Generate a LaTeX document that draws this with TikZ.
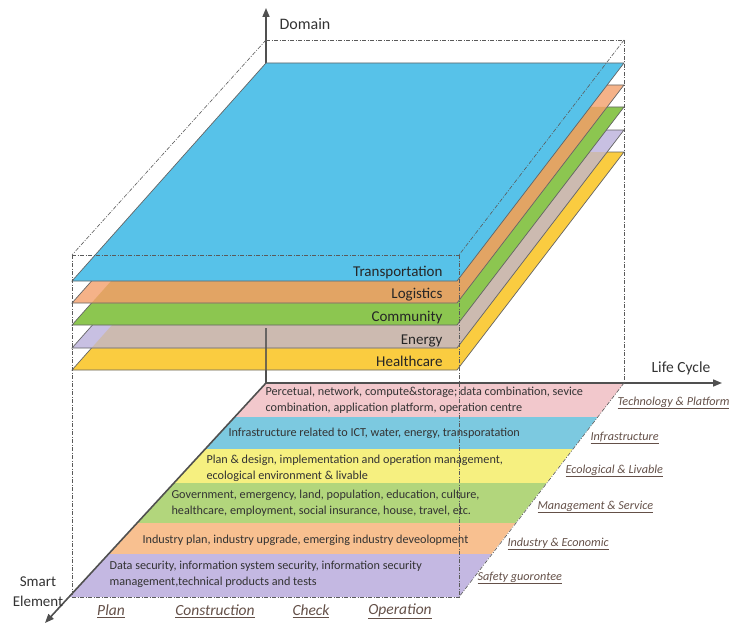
\documentclass[tikz,border=0pt]{standalone}
\usepackage{fontspec}
\setmainfont{Carlito}
\usepackage{xcolor}
\usepackage{tikz}
\usetikzlibrary{arrows.meta}

\definecolor{bandpink}{RGB}{242,200,204}
\definecolor{bandblue}{RGB}{124,201,224}
\definecolor{bandyellow}{RGB}{246,240,128}
\definecolor{bandgreen}{RGB}{178,214,124}
\definecolor{bandorange}{RGB}{248,192,144}
\definecolor{bandlilac}{RGB}{196,184,226}
\definecolor{layblue}{RGB}{87,194,233}
\definecolor{laypeach}{RGB}{245,178,136}
\definecolor{layorange}{RGB}{226,164,100}
\definecolor{laygreen}{RGB}{140,198,80}
\definecolor{laylilac}{RGB}{200,192,226}
\definecolor{laytaupe}{RGB}{204,186,176}
\definecolor{layyellow}{RGB}{250,204,64}
\definecolor{labbrown}{RGB}{100,80,72}
\definecolor{axgrey}{RGB}{80,80,80}
\definecolor{edgegrey}{RGB}{100,100,100}
\definecolor{dashgrey}{RGB}{90,90,90}

\begin{document}
\begin{tikzpicture}[x=1pt,y=-1pt,
  axis/.style={draw=axgrey,line width=1.6pt,-{Triangle[length=9pt,width=7pt]}},
  axline/.style={draw=axgrey,line width=1.6pt},
  layer/.style={draw=edgegrey,line width=0.7pt},
  frame/.style={draw=dashgrey,line width=0.6pt,dash pattern=on 4pt off 1.5pt on 1pt off 1.5pt},
  layerlabel/.style={anchor=base east,font=\fontsize{15}{17}\selectfont,text=black!85},
  bandtext/.style={anchor=west,align=left,font=\fontsize{12.2}{16}\selectfont,text=black!80},
  sidelabel/.style={anchor=west,font=\fontsize{12.2}{14}\selectfont\itshape,text=labbrown},
  phase/.style={font=\fontsize{15.5}{17}\selectfont\itshape,text=labbrown},
  axlabel/.style={font=\fontsize{15.5}{17}\selectfont,text=black!80}]
\useasboundingbox (0,0) rectangle (729,626);
%
\coordinate (O) at (266,383);
\coordinate (dom) at (266,8);
\coordinate (life) at (722,383);
\coordinate (smart) at (45,623);
\coordinate (dmid) at (266,328);
%
\coordinate (f1) at (266,40);
\coordinate (f2) at (624,40);
\coordinate (f3) at (459,255);
\coordinate (f4) at (72,255);
\coordinate (f5) at (72,597);
\coordinate (f6) at (459,597);
\coordinate (f7) at (624,383);
%% life cycle plane
\fill[bandpink] (266,383) -- (624,383) -- (597.6,417) -- (234.7,417) -- cycle;
\fill[bandblue] (234.7,417) -- (597.6,417) -- (572.8,449) -- (205.3,449) -- cycle;
\fill[bandyellow] (205.3,449) -- (572.8,449) -- (546.4,483) -- (174,483) -- cycle;
\fill[bandgreen] (174,483) -- (546.4,483) -- (515.4,523) -- (137.2,523) -- cycle;
\fill[bandorange] (137.2,523) -- (515.4,523) -- (491.4,554) -- (108.7,554) -- cycle;
\fill[bandlilac] (108.7,554) -- (491.4,554) -- (459,597) -- (69.1,597) -- cycle;
%% axes
\draw[axis] (O) -- (dom);
\draw[axis] (O) -- (life);
\draw[axis] (O) -- (smart);
%% domain layers
\filldraw[layer,fill=layyellow] (266,152) -- (624,152) -- (457,370) -- (72,370) -- cycle;
%
\fill[laylilac] (266,130) -- (624,130) -- (457,348) -- (72,348) -- cycle;
\begin{scope}
\clip (266,130) -- (624,130) -- (457,348) -- (72,348) -- cycle;
\fill[laytaupe] (266,152) -- (624,152) -- (457,370) -- (72,370) -- cycle;
\end{scope}
\draw[layer] (266,130) -- (624,130) -- (457,348) -- (72,348) -- cycle;
%
\filldraw[layer,fill=laygreen] (266,107) -- (624,107) -- (457,325) -- (72,325) -- cycle;
%
\fill[laypeach] (266,85) -- (624,85) -- (457,303) -- (72,303) -- cycle;
\begin{scope}
\clip (266,85) -- (624,85) -- (457,303) -- (72,303) -- cycle;
\fill[layorange] (266,107) -- (624,107) -- (457,325) -- (72,325) -- cycle;
\end{scope}
\draw[layer] (266,85) -- (624,85) -- (457,303) -- (72,303) -- cycle;
%
\filldraw[layer,fill=layblue] (266,63) -- (624,63) -- (457,281) -- (72,281) -- cycle;
%
\draw[axline,draw opacity=0.8] (dmid) -- (O);
%% frame
\draw[frame] (f1) -- (f2);
\draw[frame] (f1) -- (f4);
\draw[frame] (f2) -- (f3);
\draw[frame] (f4) -- (f3);
\draw[frame] (f4) -- (f5);
\draw[frame] (f5) -- (f6);
\draw[frame] (f3) -- (f6);
\draw[frame] (f2) -- (f7);
\draw[frame] (f7) -- (f6);
%% labels
\node (ldom) at (276,24) [axlabel,anchor=west,font=\fontsize{16}{18}\selectfont] {Domain};
\node (llife) at (681,368) [axlabel] {Life Cycle};
\node (lsmart) at (38,592) [axlabel,align=center,font=\fontsize{15}{20}\selectfont] {Smart\\Element};
%
\node (tr) at (446,276) [layerlabel] {Transportation};
\node (lo) at (446,298) [layerlabel] {Logistics};
\node (co) at (446,321) [layerlabel] {Community};
\node (en) at (446,344) [layerlabel] {Energy};
\node (he) at (446,366) [layerlabel] {Healthcare};
%
\node (b1) at (262,400) [bandtext] {Percetual, network, compute\&storage; data combination, sevice\\combination, application platform, operation centre};
\node (b2) at (225,433) [bandtext] {Infrastructure related to ICT, water, energy, transporatation};
\node (b3) at (203,468) [bandtext] {Plan \& design, implementation and operation management,\\ecological environment \& livable};
\node (b4) at (168,503) [bandtext] {Government, emergency, land, population, education, culture,\\healthcare, employment, social insurance, house, travel, etc.};
\node (b5) at (139,540) [bandtext] {Industry plan, industry upgrade, emerging industry deveolopment};
\node (b6) at (106,574) [bandtext] {Data security, information system security, information security\\management,technical products and tests};
%
\node (s1) at (614,403) [sidelabel] {\underline{Technology \& Platform}};
\node (s2) at (587,438) [sidelabel] {\underline{Infrastructure}};
\node (s3) at (562,471) [sidelabel] {\underline{Ecological \& Livable}};
\node (s4) at (534,507) [sidelabel] {\underline{Management \& Service}};
\node (s5) at (504,544) [sidelabel] {\underline{Industry \& Economic}};
\node (s6) at (474,578) [sidelabel] {\underline{Safety guorontee}};
%
\node (p1) at (111,611) [phase] {\underline{Plan}};
\node (p2) at (215,611) [phase] {\underline{Construction}};
\node (p3) at (311,611) [phase] {\underline{Check}};
\node (p4) at (400,611) [phase] {\underline{Operation}};
\end{tikzpicture}
\end{document}
